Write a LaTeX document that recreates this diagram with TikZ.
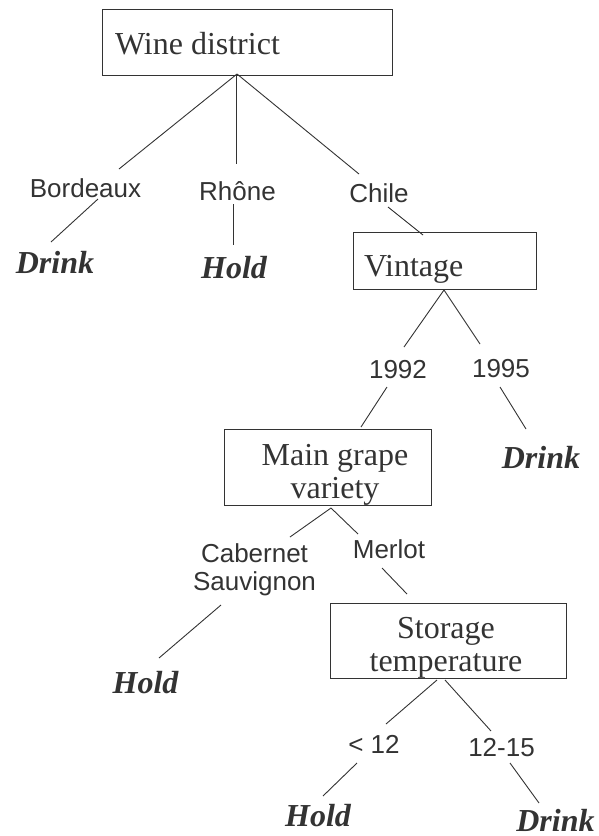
\documentclass[tikz,border=0pt]{standalone}
\usepackage{fontspec}
\setmainfont{Liberation Serif}
\setsansfont{Liberation Sans}
\definecolor{ink}{RGB}{51,51,51}
\begin{document}
\begin{tikzpicture}[x=1pt,y=-1pt,
  every node/.style={text=ink, inner sep=0pt, outer sep=0pt},
  box/.style={draw=ink, line width=1pt, inner sep=0pt},
  lbl/.style={font=\fontsize{26}{28}\selectfont\sffamily, anchor=base, align=center},
  ttl/.style={font=\fontsize{32}{33}\selectfont\rmfamily, anchor=base, align=center},
  leaf/.style={font=\fontsize{32}{33}\selectfont\rmfamily\bfseries\itshape, anchor=base},
  edge/.style={draw=ink, line width=0.9pt}]
\useasboundingbox (0,0) rectangle (599,836);
% boxes
\node[box, minimum width=290pt, minimum height=66pt] (wd) at (247,42) {};
\node[ttl, anchor=base west] (wdt) at (115,54) {Wine district};
\node[box, minimum width=183pt, minimum height=57pt] (vin) at (444.5,260.5) {};
\node[ttl, anchor=base west] (vint) at (364,276) {Vintage};
\node[box, minimum width=207pt, minimum height=76pt] (mgv) at (327.5,467) {};
\node[ttl] (mgvt) at (335,498) {Main grape\\variety};
\node[box, minimum width=236pt, minimum height=75pt] (st) at (448,640.5) {};
\node[ttl] (stt) at (446,671) {Storage\\temperature};
% labels
\node[lbl] (bord) at (85.5,197) {Bordeaux};
\node[lbl] (rho) at (237.5,200) {Rhône};
\node[lbl] (chi) at (379,202) {Chile};
\node[lbl] (y92) at (398,378) {1992};
\node[lbl] (y95) at (501,377) {1995};
\node[lbl] (cab) at (254.5,590) {Cabernet\\Sauvignon};
\node[lbl] (mer) at (389,558) {Merlot};
\node[lbl] (lt) at (374,753) {< 12};
\node[lbl] (mid) at (501.5,756) {12-15};
% leaves
\node[leaf] (d1) at (55,273) {Drink};
\node[leaf] (h1) at (234,278) {Hold};
\node[leaf] (d2) at (541,468) {Drink};
\node[leaf] (h2) at (145.5,693) {Hold};
\node[leaf] (h3) at (318,826) {Hold};
\node[leaf] (d3) at (555.5,831) {Drink};
% connector end points
\coordinate (wd-l) at (237,74); \coordinate (wd-m) at (236,75); \coordinate (wd-r) at (237,74);
\coordinate (bord-t) at (119,169); \coordinate (rho-t) at (236,164); \coordinate (chi-t) at (359,174);
\coordinate (bord-b) at (98,199); \coordinate (d1-t) at (51,242);
\coordinate (rho-b) at (233,204); \coordinate (h1-t) at (233,245);
\coordinate (chi-b) at (388,207); \coordinate (vin-t) at (423,235);
\coordinate (vin-b) at (444,290); \coordinate (y92-t) at (404,347); \coordinate (y95-t) at (480,344);
\coordinate (y92-b) at (387,387); \coordinate (mgv-t) at (361,427);
\coordinate (y95-b) at (500,387); \coordinate (d2-t) at (526,429);
\coordinate (mgv-b) at (331,508); \coordinate (cab-t) at (290,537); \coordinate (mer-t) at (358,534);
\coordinate (cab-b) at (221,605); \coordinate (h2-t) at (159,658);
\coordinate (mer-b) at (382,568); \coordinate (st-t) at (407,594);
\coordinate (st-bl) at (437,680); \coordinate (lt-t) at (386,724);
\coordinate (st-br) at (445,680); \coordinate (mid-t) at (491,731);
\coordinate (lt-b) at (357,763); \coordinate (h3-t) at (323,796);
\coordinate (mid-b) at (510,763); \coordinate (d3-t) at (539,803);
% connectors
\draw[edge] (wd-l) -- (bord-t);
\draw[edge] (wd-m) -- (rho-t);
\draw[edge] (wd-r) -- (chi-t);
\draw[edge] (bord-b) -- (d1-t);
\draw[edge] (rho-b) -- (h1-t);
\draw[edge] (chi-b) -- (vin-t);
\draw[edge] (vin-b) -- (y92-t);
\draw[edge] (vin-b) -- (y95-t);
\draw[edge] (y92-b) -- (mgv-t);
\draw[edge] (y95-b) -- (d2-t);
\draw[edge] (mgv-b) -- (cab-t);
\draw[edge] (mgv-b) -- (mer-t);
\draw[edge] (cab-b) -- (h2-t);
\draw[edge] (mer-b) -- (st-t);
\draw[edge] (st-bl) -- (lt-t);
\draw[edge] (st-br) -- (mid-t);
\draw[edge] (lt-b) -- (h3-t);
\draw[edge] (mid-b) -- (d3-t);
\end{tikzpicture}
\end{document}
